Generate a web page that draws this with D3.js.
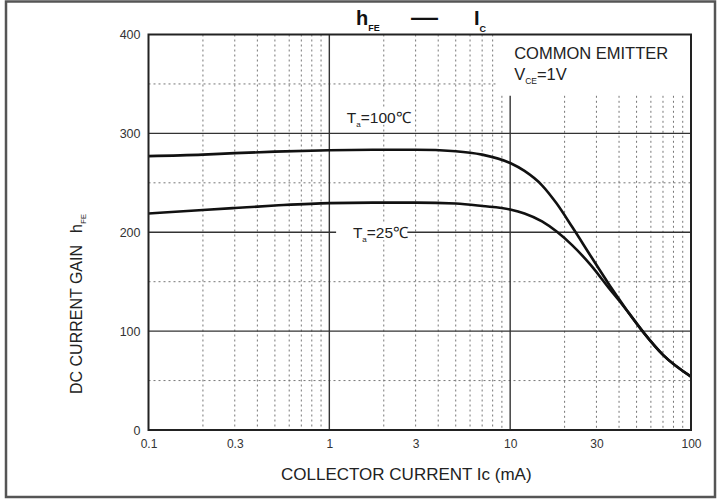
<!DOCTYPE html>
<html>
<head>
<meta charset="utf-8">
<script src="https://cdn.jsdelivr.net/npm/d3@7"></script>
<style>
  body { margin: 0; background: #fff; }
  svg { display: block; font-family: 'Liberation Sans', Arial, sans-serif; }
  .tick text { fill: #333; }
</style>
</head>
<body>
<div class="chart-container"></div>
<script>
'use strict'

// DATA
const icValues = [0.1, 0.2, 0.3, 0.5, 1, 2, 3, 5, 7, 10, 12, 15, 18, 22, 28, 35, 40, 45, 55, 70, 100];
const hfe100 = [277, 278.5, 280, 281.5, 283, 283.5, 283.5, 282, 278.5, 270, 262, 247.5, 229.5, 205.5, 175.5, 148, 132.5, 119, 98, 76, 54];
const hfe25 = [219, 222.5, 224.5, 227, 229.5, 230, 230, 229, 226.5, 223, 219, 211, 201, 187, 166.5, 144, 131, 119, 98, 76, 54];

const xTicks = [0.1, 0.3, 1, 3, 10, 30, 100];
const xTickLabels = ['0.1', '0.3', '1', '3', '10', '30', '100'];
const xMajorGrid = [1, 10];
const xMinorGrid = [0.2, 0.3, 0.4, 0.5, 0.6, 0.7, 0.8, 0.9, 2, 3, 4, 5, 6, 7, 8, 9, 20, 30, 40, 50, 60, 70, 80, 90];
const yTicks = [0, 100, 200, 300, 400];
const yMajorGrid = [100, 200, 300];
const yMinorGrid = [50, 150, 250, 350];

function main() {
  const W = 723, H = 499;
  const margin = {top: 34.5, right: 32, bottom: 69, left: 148.5};
  const width = W - margin.left - margin.right;
  const height = H - margin.top - margin.bottom;

  const xScale = d3.scaleLog([0.1, 100], [0, width]);
  const yScale = d3.scaleLinear([0, 400], [height, 0]);

  // area reserved for the "COMMON EMITTER" note (top right)
  const noteFrom = 8.6, noteBelow = 338;

  const root = d3.select('.chart-container')
    .append('svg')
    .attr('width', W)
    .attr('height', H);

  // OUTER FRAME
  root.append('rect')
    .attr('x', 6).attr('y', 1.5)
    .attr('width', 709).attr('height', 495.5)
    .attr('fill', '#fff')
    .attr('stroke', '#555')
    .attr('stroke-width', 2.5);

  const svg = root.append('g')
    .attr('transform', `translate(${margin.left}, ${margin.top})`);

  // GRID
  const grid = svg.append('g').attr('class', 'grid');

  grid.selectAll('.vminor')
    .data(xMinorGrid)
    .join('line')
    .attr('x1', d => xScale(d)).attr('x2', d => xScale(d))
    .attr('y1', d => d > noteFrom ? yScale(noteBelow) : 0)
    .attr('y2', height)
    .attr('stroke', '#777')
    .attr('stroke-width', 1)
    .attr('stroke-dasharray', '2,3');

  grid.selectAll('.hminor')
    .data(yMinorGrid)
    .join('line')
    .attr('x1', 0)
    .attr('x2', d => d > noteBelow ? xScale(noteFrom) : width)
    .attr('y1', d => yScale(d)).attr('y2', d => yScale(d))
    .attr('stroke', '#777')
    .attr('stroke-width', 1)
    .attr('stroke-dasharray', '2,3');

  grid.selectAll('.vmajor')
    .data(xMajorGrid)
    .join('line')
    .attr('x1', d => xScale(d)).attr('x2', d => xScale(d))
    .attr('y1', d => d > noteFrom ? yScale(noteBelow) : 0)
    .attr('y2', height)
    .attr('stroke', '#333')
    .attr('stroke-width', 1.4);

  grid.selectAll('.hmajor')
    .data(yMajorGrid)
    .join('line')
    .attr('x1', 0).attr('x2', width)
    .attr('y1', d => yScale(d)).attr('y2', d => yScale(d))
    .attr('stroke', '#333')
    .attr('stroke-width', 1.4);

  // CURVE LABELS (white box breaks the grid under the text)
  const tempLabel = (ic, hfe, temp, bx0, bx1) => {
    svg.append('rect')
      .attr('x', xScale(bx0)).attr('width', xScale(bx1) - xScale(bx0))
      .attr('y', yScale(hfe) - 9).attr('height', 17)
      .attr('fill', '#fff');
    const t = svg.append('text')
      .attr('x', xScale(ic))
      .attr('y', yScale(hfe) + 6)
      .style('font-size', '15.5px')
      .attr('fill', '#222');
    t.append('tspan').text('T');
    t.append('tspan').text('a').attr('dy', 4).style('font-size', '8px');
    t.append('tspan').text('=' + temp + '\u2103').attr('dy', -4);
  };
  tempLabel(1.25, 317, 100, 1.2, 2.35);
  tempLabel(1.35, 200, 25, 1.09, 2.7);

  // CURVES
  const line = d3.line()
    .x(d => xScale(d[0]))
    .y(d => yScale(d[1]))
    .curve(d3.curveMonotoneX);

  [hfe100, hfe25].forEach(series => {
    svg.append('path')
      .datum(icValues.map((ic, i) => [ic, series[i]]))
      .attr('d', line)
      .attr('fill', 'none')
      .attr('stroke', '#111')
      .attr('stroke-width', 2.6);
  });

  // NOTE
  const note = svg.append('g').attr('fill', '#222').style('font-size', '16.5px');
  note.append('text')
    .attr('x', xScale(10) + 4).attr('y', 24.5)
    .text('COMMON EMITTER');
  const vce = note.append('text')
    .attr('x', xScale(10) + 4).attr('y', 45.5);
  vce.append('tspan').text('V');
  vce.append('tspan').text('CE').attr('dy', 4).style('font-size', '8.5px');
  vce.append('tspan').text('=1V').attr('dy', -4);

  // X AXIS
  const xAxis = d3.axisBottom(xScale)
    .tickValues(xTicks)
    .tickFormat((d, i) => xTickLabels[i])
    .tickSize(0)
    .tickPadding(9);
  const xAxisDraw = svg.append('g')
    .attr('class', 'x axis')
    .attr('transform', `translate(0, ${height})`)
    .call(xAxis);
  xAxisDraw.select('.domain').remove();
  xAxisDraw.selectAll('text').style('font-size', '12px');

  // Y AXIS
  const yAxis = d3.axisLeft(yScale)
    .tickValues(yTicks)
    .tickSize(0)
    .tickPadding(8);
  const yAxisDraw = svg.append('g')
    .attr('class', 'y axis')
    .call(yAxis);
  yAxisDraw.select('.domain').remove();
  yAxisDraw.selectAll('text').style('font-size', '12.5px');

  // PLOT FRAME
  svg.append('rect')
    .attr('width', width).attr('height', height)
    .attr('fill', 'none')
    .attr('stroke', '#222')
    .attr('stroke-width', 2);

  // AXIS TITLES
  root.append('text')
    .attr('x', 281).attr('y', 480)
    .style('font-size', '17px')
    .attr('fill', '#222')
    .text('COLLECTOR CURRENT  Ic (mA)');

  const yTitle = root.append('text')
    .attr('transform', 'translate(82, 394) rotate(-90)')
    .style('font-size', '16px')
    .attr('fill', '#222');
  yTitle.append('tspan').text('DC CURRENT GAIN');
  yTitle.append('tspan').text('h').attr('dx', 12);
  yTitle.append('tspan').text('FE').attr('dy', 4).style('font-size', '8px');

  // HEADER
  const header = root.append('g')
    .attr('fill', '#111')
    .style('font-weight', 'bold');
  const h1 = header.append('text').attr('x', 356).attr('y', 25).style('font-size', '20px');
  h1.append('tspan').text('h');
  h1.append('tspan').text('FE').attr('dy', 6).style('font-size', '9px');
  header.append('text')
    .attr('x', 411).attr('y', 25)
    .attr('textLength', 27).attr('lengthAdjust', 'spacingAndGlyphs')
    .style('font-size', '22px')
    .text('\u2014');
  const h2 = header.append('text').attr('x', 474).attr('y', 25).style('font-size', '20px');
  h2.append('tspan').text('I');
  h2.append('tspan').text('C').attr('dy', 7).style('font-size', '9px');
}

// START
main();
</script>
</body>
</html>
